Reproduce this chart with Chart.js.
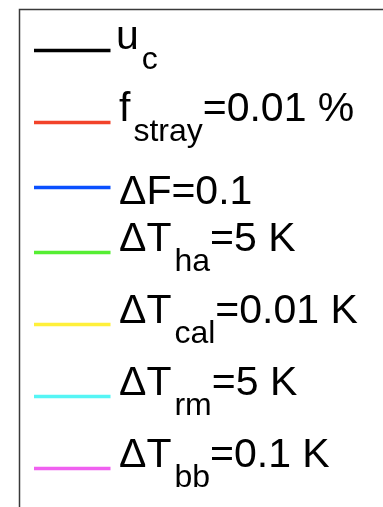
<!DOCTYPE html>
<html>
<head>
<meta charset="utf-8">
<script src="https://cdn.jsdelivr.net/npm/chart.js@4/dist/chart.umd.min.js"></script>
<style>
  html, body { margin: 0; padding: 0; background: #fff; }
  #wrap { width: 383px; height: 507px; }
</style>
</head>
<body>
<div id="wrap"><canvas id="chart" width="383" height="507"></canvas></div>
<script>
// legend entries (no data marks visible in this crop)
var baseNames = ['u', 'f', '\u0394F', '\u0394T', '\u0394T', '\u0394T', '\u0394T'];
var subNames = ['c', 'stray', '', 'ha', 'cal', 'rm', 'bb'];
var suffixes = ['', '=0.01 %', '=0.1', '=5 K', '=0.01 K', '=5 K', '=0.1 K'];
var seriesColors = ['#000000', '#f2432a', '#0a50ff', '#55ee33', '#fff03a', '#55f5f5', '#f060f0'];

(function () {
  var FONT = '"Liberation Sans", Arial, Helvetica, sans-serif';
  var MAIN_SIZE = 41;
  var SUB_SIZE = 32;

  var datasets = baseNames.map(function (name, i) {
    return {
      label: name + (subNames[i] ? '_' + subNames[i] : '') + suffixes[i],
      data: [],
      borderColor: seriesColors[i],
      backgroundColor: seriesColors[i],
      borderWidth: 3.5
    };
  });

  var legendBox = {
    id: 'legendBox',
    afterDraw: function (chart) {
      var ctx = chart.ctx;
      ctx.save();

      // box frame (only top and left edges fall inside the crop)
      ctx.strokeStyle = '#3a3a3a';
      ctx.lineWidth = 1.5;
      ctx.beginPath();
      ctx.moveTo(19.5, 600);
      ctx.lineTo(19.5, 9.5);
      ctx.lineTo(400, 9.5);
      ctx.stroke();

      var y = 50.5;
      var prevH = null;
      chart.data.datasets.forEach(function (ds, i) {
        var hasSub = !!subNames[i];
        var h = hasSub ? 72 : 58;
        if (prevH !== null) y += (prevH + h) / 2;
        prevH = h;

        ctx.strokeStyle = ds.borderColor;
        ctx.lineWidth = ds.borderWidth;
        ctx.beginPath();
        ctx.moveTo(34, y);
        ctx.lineTo(110.5, y);
        ctx.stroke();

        var base = hasSub ? y - 2 : y + 16;
        var x = i === 0 ? 116 : 119;
        ctx.fillStyle = '#000';
        ctx.textBaseline = 'alphabetic';
        ctx.textAlign = 'left';
        ctx.font = MAIN_SIZE + 'px ' + FONT;
        ctx.fillText(baseNames[i], x, base);
        x += ctx.measureText(baseNames[i]).width;
        if (hasSub) {
          ctx.font = SUB_SIZE + 'px ' + FONT;
          ctx.fillText(subNames[i], x + 3, base + 20);
          x += ctx.measureText(subNames[i]).width + 3;
        }
        ctx.font = MAIN_SIZE + 'px ' + FONT;
        ctx.fillText(suffixes[i], x, base);
      });
      ctx.restore();
    }
  };

  new Chart(document.getElementById('chart').getContext('2d'), {
    type: 'line',
    data: { labels: [], datasets: datasets },
    options: {
      responsive: false,
      animation: false,
      events: [],
      scales: { x: { display: false }, y: { display: false } },
      plugins: { legend: { display: false }, tooltip: { enabled: false } }
    },
    plugins: [legendBox]
  });
})();
</script>
</body>
</html>
